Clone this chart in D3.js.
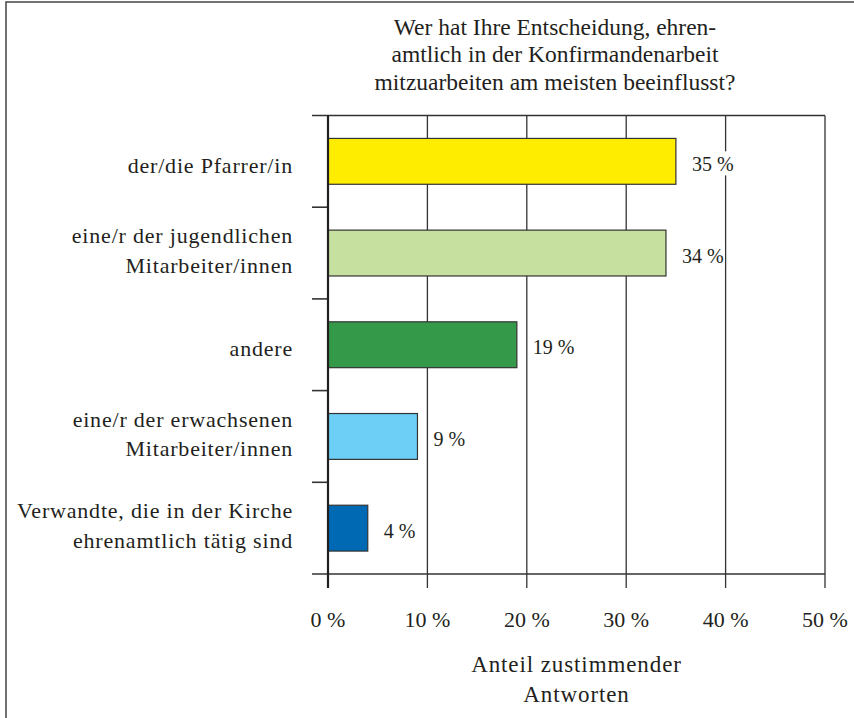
<!doctype html>
<html>
<head>
<meta charset="utf-8">
<script src="https://cdn.jsdelivr.net/npm/d3@7"></script>
<style>
  body { margin: 0; background: #fff; }
  svg { display: block; }
  text { font-family: "Liberation Serif", "DejaVu Serif", serif; fill: #231f20; }
</style>
</head>
<body>
<svg width="854" height="718"></svg>
<script>
// data
var categories = [
  ["der/die Pfarrer/in"],
  ["eine/r der jugendlichen", "Mitarbeiter/innen"],
  ["andere"],
  ["eine/r der erwachsenen", "Mitarbeiter/innen"],
  ["Verwandte, die in der Kirche", "ehrenamtlich tätig sind"]
];
var values = [35, 34, 19, 9, 4];
var colors = ["#ffed00", "#c5e09f", "#35994a", "#6dcff6", "#0069b4"];
var xTicks = [0, 10, 20, 30, 40, 50];
var titleLines = ["Wer hat Ihre Entscheidung, ehren-", "amtlich in der Konfirmandenarbeit", "mitzuarbeiten am meisten beeinflusst?"];
var axisTitle = ["Anteil zustimmender", "Antworten"];

var svg = d3.select("svg");
// plot box (note: "top" is reserved on window, hence the prefix)
var pLeft = 328, pRight = 825, pTop = 115.5, pBottom = 574;

var x = d3.scaleLinear().domain([0, 50]).range([pLeft, pRight]);
var y = d3.scaleBand().domain(d3.range(categories.length)).range([pTop, pBottom])
          .paddingInner(0.5).paddingOuter(0.25);
var yEdge = d3.scaleLinear().domain([0, categories.length]).range([pTop, pBottom]);

// frame round the figure
svg.append("rect")
   .attr("x", 6).attr("y", 2).attr("width", 900).attr("height", 800)
   .style("fill", "none").style("stroke", "#444").style("stroke-width", 1.5);

// title
svg.append("g").selectAll("text")
   .data(titleLines)
   .enter().append("text")
   .attr("x", 555)
   .attr("y", (d, i) => 34.5 + i * 27.5)
   .attr("text-anchor", "middle")
   .style("font-size", "23.5px")
   .text(d => d);

// vertical grid lines + ticks below axis
svg.append("g").selectAll("line")
   .data(xTicks.slice(1))
   .enter().append("line")
   .attr("x1", d => x(d)).attr("x2", d => x(d))
   .attr("y1", pTop).attr("y2", pBottom + 14)
   .style("stroke", "#333").style("stroke-width", 1.3);

// horizontal edge ticks (category boundaries), top and bottom span the plot
svg.append("g").selectAll("line")
   .data(d3.range(categories.length + 1))
   .enter().append("line")
   .attr("x1", pLeft - 16)
   .attr("x2", d => (d == 0 || d == categories.length) ? pRight : pLeft)
   .attr("y1", d => yEdge(d)).attr("y2", d => yEdge(d))
   .style("stroke", "#333").style("stroke-width", 1.6);

// bars
svg.append("g").selectAll("rect")
   .data(values)
   .enter().append("rect")
   .attr("x", x(0))
   .attr("y", (d, i) => y(i))
   .attr("width", d => x(d) - x(0))
   .attr("height", y.bandwidth())
   .style("fill", (d, i) => colors[i])
   .style("stroke", "#333").style("stroke-width", 1.2);

// left axis line
svg.append("line")
   .attr("x1", pLeft).attr("x2", pLeft).attr("y1", pTop).attr("y2", pBottom + 14)
   .style("stroke", "#231f20").style("stroke-width", 2.2);

// value labels with white backing over grid lines
var vl = svg.append("g").selectAll("g")
   .data(values)
   .enter().append("g")
   .attr("transform", (d, i) => `translate(${x(d) + 16},${y(i) + y.bandwidth() / 2})`);
vl.append("text")
  .attr("y", 9.5)
  .style("font-size", "20px")
  .text(d => d + " %");
vl.each(function() {
  var g = d3.select(this), b = g.select("text").node().getBBox();
  g.insert("rect", "text")
   .attr("x", b.x - 1).attr("y", -10).attr("width", b.width + 2).attr("height", 24)
   .style("fill", "#fff");
});

// category labels
var cl = svg.append("g").selectAll("text")
   .data(categories)
   .enter().append("text")
   .attr("text-anchor", "end")
   .attr("transform", (d, i) => `translate(293,${y(i) + y.bandwidth() / 2})`)
   .style("font-size", "22px")
   .style("letter-spacing", "0.8px");
cl.selectAll("tspan")
  .data(d => d.map((t, j) => ({t: t, j: j, n: d.length})))
  .enter().append("tspan")
  .attr("x", 0)
  .attr("y", d => 11.5 - (d.n - 1) * 21.2 + d.j * 29.3)
  .text(d => d.t);

// x tick labels
svg.append("g").selectAll("text")
   .data(xTicks)
   .enter().append("text")
   .attr("x", d => x(d))
   .attr("y", 627)
   .attr("text-anchor", "middle")
   .style("font-size", "22px")
   .text(d => d + " %");

// axis title
svg.append("g").selectAll("text")
   .data(axisTitle)
   .enter().append("text")
   .attr("x", (pLeft + pRight) / 2)
   .attr("y", (d, i) => 672 + i * 30)
   .attr("text-anchor", "middle")
   .style("font-size", "23px")
   .style("letter-spacing", "0.9px")
   .text(d => d);
</script>
</body>
</html>
